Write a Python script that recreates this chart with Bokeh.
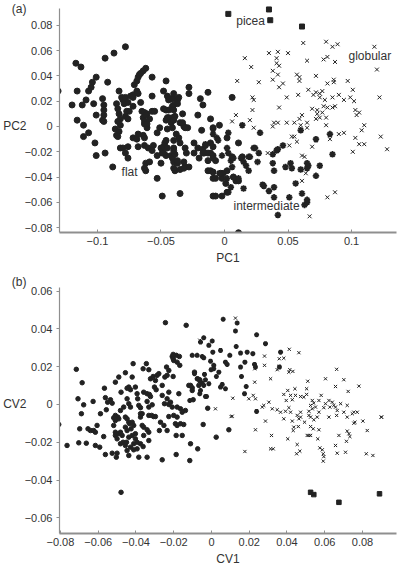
from bokeh.plotting import figure
from bokeh.layouts import column
from bokeh.models import FixedTicker, Label, LinearAxis
from bokeh.embed import file_html
from bokeh.resources import INLINE

# ---------------- Panel (a): PC1 vs PC2 ----------------
flat_a = [
    (-0.131, 0.028), (-0.078, 0.063), (-0.087, 0.058), (-0.094, 0.054), (-0.117, 0.050), (-0.113, 0.047),
    (-0.101, 0.039), (-0.092, 0.035), (-0.104, 0.035), (-0.105, 0.031), (-0.107, 0.028), (-0.116, 0.028),
    (-0.109, 0.021), (-0.112, 0.017), (-0.120, 0.017), (-0.103, 0.018), (-0.096, 0.022), (-0.095, 0.017),
    (-0.095, 0.013), (-0.095, 0.009), (-0.096, 0.005), (-0.101, 0.009), (-0.095, 0.004), (-0.116, 0.005),
    (-0.111, 0.001), (-0.107, -0.005), (-0.111, -0.008), (-0.102, -0.013),
    (-0.085, 0.018), (-0.084, 0.014), (-0.083, 0.010), (-0.082, 0.006), (-0.084, 0.004),
    (-0.081, 0.023), (-0.080, 0.021), (-0.078, 0.023), (-0.079, 0.018), (-0.076, 0.019), (-0.074, 0.024),
    (-0.072, 0.025), (-0.083, 0.028), (-0.077, 0.012), (-0.078, 0.008), (-0.076, 0.006), (-0.075, 0.012),
    (-0.086, -0.002), (-0.083, -0.004), (-0.085, -0.007), (-0.084, -0.008), (-0.082, 0.001),
    (-0.072, 0.016), (-0.072, 0.023), (-0.071, 0.033), (-0.069, 0.036), (-0.068, 0.039), (-0.067, 0.041),
    (-0.066, 0.042), (-0.064, 0.044), (-0.062, 0.046), (-0.069, 0.028), (-0.068, 0.026), (-0.066, 0.019),
    (-0.065, 0.012), (-0.063, 0.011), (-0.061, 0.010), (-0.064, 0.007), (-0.063, 0.004), (-0.063, 0.002),
    (-0.061, -0.001), (-0.068, -0.006), (-0.057, 0.039), (-0.057, 0.024), (-0.057, 0.012), (-0.055, 0.012),
    (-0.059, 0.006), (-0.048, 0.028), (-0.045, 0.024), (-0.046, 0.036), (-0.046, 0.013),
    (-0.044, 0.021), (-0.042, 0.022), (-0.040, 0.022), (-0.037, 0.021), (-0.036, 0.023), (-0.040, 0.026),
    (-0.044, 0.013), (-0.040, 0.013), (-0.046, 0.005), (-0.044, 0.007), (-0.041, 0.007), (-0.039, 0.008),
    (-0.041, 0.016), (-0.035, 0.003), (-0.032, 0.000), (-0.029, -0.001), (-0.033, 0.010), (-0.028, 0.031),
    (-0.028, 0.026), (-0.021, 0.009), (-0.038, -0.006), (-0.036, -0.009), (-0.045, -0.002), (-0.051, -0.001),
    (-0.053, -0.005), (-0.064, -0.007), (-0.063, -0.015), (-0.060, -0.017), (-0.056, -0.015),
    (-0.050, -0.017), (-0.048, -0.016), (-0.045, -0.017), (-0.040, -0.017), (-0.031, -0.017), (-0.024, -0.013),
    (-0.021, -0.017), (-0.072, -0.009), (-0.076, -0.016), (-0.082, -0.017), (-0.040, -0.011), (-0.035, -0.013),
    (-0.101, -0.023), (-0.094, -0.021), (-0.088, -0.032), (-0.080, -0.017), (-0.078, -0.021), (-0.076, -0.025),
    (-0.069, -0.010), (-0.068, -0.016), (-0.063, -0.009), (-0.062, -0.029), (-0.063, -0.033), (-0.062, -0.035),
    (-0.059, -0.028), (-0.057, -0.019), (-0.053, -0.023), (-0.053, -0.041), (-0.050, -0.029), (-0.049, -0.055),
    (-0.049, -0.021), (-0.046, -0.023), (-0.047, -0.013), (-0.046, -0.011), (-0.042, -0.023), (-0.041, -0.025),
    (-0.039, -0.022), (-0.040, -0.028), (-0.037, -0.029), (-0.039, -0.035), (-0.035, -0.034), (-0.035, -0.053),
    (-0.032, -0.028), (-0.031, -0.032), (-0.028, -0.032), (-0.030, -0.021), (-0.024, -0.021), (-0.020, -0.025),
    (0.006, 0.023), (-0.017, 0.017), (-0.011, 0.006), (-0.009, -0.001), (-0.004, 0.001), (-0.018, -0.003),
    (0.002, -0.009), (0.011, -0.013), (-0.011, -0.013), (-0.009, -0.016), (-0.017, -0.018), (-0.016, -0.021),
    (-0.011, -0.021), (-0.009, -0.023), (-0.009, -0.025), (-0.013, -0.035), (-0.011, -0.035), (-0.009, -0.036),
    (-0.007, -0.041), (-0.002, -0.041), (-0.001, -0.037), (0.002, -0.035), (-0.009, -0.055), (-0.002, -0.055),
    (-0.019, 0.022), (-0.013, 0.027), (-0.062, 0.009), (-0.061, 0.002), (-0.048, 0.014), (-0.045, 0.007),
    (-0.042, 0.003), (-0.040, 0.005), (-0.041, -0.001), (-0.040, 0.017), (-0.037, 0.018), (-0.033, 0.003),
    (-0.031, -0.001), (-0.040, -0.033), (-0.032, -0.033), (-0.037, -0.027), (-0.048, -0.021), (-0.040, -0.019),
    (-0.015, -0.015), (-0.017, -0.021), (-0.013, -0.021), (-0.007, -0.027), (-0.013, -0.027), (-0.009, -0.041),
    (-0.003, -0.037), (0.001, -0.045), (0.002, -0.052), (-0.007, -0.055), (0.009, -0.043), (0.007, -0.040),
    (0.014, -0.024), (0.006, -0.024), (0.011, -0.043), (0.011, -0.084),
]
inter_a = [
    (-0.009, -0.002), (-0.009, -0.006), (-0.006, -0.009), (0.003, -0.005), (0.014, 0.001), (0.028, -0.005),
    (0.023, -0.017), (0.042, -0.018), (0.046, -0.015), (0.060, -0.003), (0.072, -0.010), (0.083, -0.006),
    (0.002, -0.017), (-0.005, -0.011), (-0.002, -0.023), (0.005, -0.027), (0.007, -0.025), (0.013, -0.025),
    (0.015, -0.028), (0.024, -0.017), (0.027, -0.021), (0.026, -0.028), (0.019, -0.024), (0.017, -0.031),
    (0.019, -0.035), (0.006, -0.032), (-0.004, -0.037), (0.002, -0.041), (0.007, -0.040), (0.011, -0.041),
    (0.005, -0.048), (0.003, -0.052), (0.015, -0.049), (0.030, -0.046), (0.031, -0.047), (0.035, -0.051),
    (0.038, -0.029), (0.039, -0.035), (0.041, -0.019), (0.039, -0.048), (0.039, -0.056), (0.003, -0.021),
    (0.020, -0.024), (0.038, -0.022), (0.048, -0.032), (0.052, -0.029), (0.053, -0.033), (0.060, -0.034),
    (0.065, -0.033), (0.066, -0.031), (0.065, -0.029), (0.075, -0.031), (0.072, -0.039), (0.085, -0.022),
    (0.056, -0.045), (0.051, -0.056), (0.061, -0.053), (0.063, -0.062), (0.065, -0.060), (0.065, -0.058),
    (0.042, -0.070), (-0.015, -0.014),
]
glob_a = [
    (0.062, 0.066), (0.080, 0.067), (0.085, 0.063), (0.089, 0.065), (0.118, 0.063), (0.035, 0.058),
    (0.042, 0.059), (0.050, 0.058), (0.016, 0.054), (0.041, 0.054), (0.041, 0.050), (0.043, 0.048),
    (0.065, 0.052), (0.078, 0.053), (0.081, 0.055), (0.087, 0.051), (0.021, 0.047), (0.120, 0.045),
    (0.038, 0.044), (0.042, 0.041), (0.057, 0.041), (0.059, 0.039), (0.059, 0.036), (0.072, 0.040),
    (0.038, 0.037), (0.046, 0.034), (0.010, 0.036), (0.027, 0.035), (0.081, 0.034), (0.086, 0.037),
    (0.086, 0.035), (0.097, 0.036), (0.043, 0.031), (0.049, 0.023), (0.058, 0.025), (0.066, 0.029),
    (0.070, 0.025), (0.072, 0.027), (0.075, 0.026), (0.077, 0.028), (0.075, 0.023), (0.079, 0.021),
    (0.085, 0.023), (0.090, 0.025), (0.094, 0.021), (0.101, 0.029), (0.099, 0.023), (0.102, 0.020),
    (0.122, 0.023), (0.022, 0.023), (0.023, 0.021), (0.043, 0.015), (0.022, 0.013), (0.069, 0.014),
    (0.073, 0.013), (0.078, 0.016), (0.081, 0.015), (0.085, 0.015), (0.087, 0.016), (0.103, 0.013),
    (0.106, 0.011), (0.104, 0.009), (0.009, 0.009), (0.006, 0.004), (0.020, 0.005), (0.023, -0.001),
    (0.038, 0.000), (0.039, 0.003), (0.042, 0.003), (0.049, 0.003), (0.055, 0.003), (0.059, 0.006),
    (0.061, 0.009), (0.060, 0.001), (0.065, 0.003), (0.072, 0.006), (0.075, 0.007), (0.080, 0.007),
    (0.073, 0.010), (0.077, 0.011), (0.110, 0.001), (0.108, -0.003), (0.080, 0.001), (0.055, -0.008),
    (0.057, -0.012), (0.069, -0.016), (0.090, -0.006), (0.094, -0.005), (0.103, -0.009), (0.106, -0.014),
    (0.110, -0.014), (0.123, -0.008), (0.128, -0.018), (0.065, -0.001), (0.053, -0.008), (0.072, -0.011),
    (0.083, -0.010), (0.101, -0.020), (0.034, -0.021), (0.051, -0.015), (0.061, -0.023), (0.063, -0.024),
    (0.064, -0.037), (0.061, -0.043), (0.081, -0.056), (0.087, -0.052), (0.067, -0.071),
]
picea_a = [(0.003, 0.089), (0.035, 0.0925), (0.036, 0.084), (0.061, 0.079)]

# ---------------- Panel (b): CV1 vs CV2 ----------------
flat_b = [
    (-0.0716, 0.0186), (-0.0685, 0.0115), (-0.0707, 0.0030), (-0.0677, -0.0002), (-0.0689, -0.0049),
    (-0.0627, 0.0016), (-0.0567, 0.0086), (-0.0562, 0.0036), (-0.0550, 0.0012), (-0.0535, 0.0025),
    (-0.0526, 0.0007), (-0.0557, -0.0028), (-0.0588, -0.0049), (-0.0509, 0.0118), (-0.0491, 0.0145),
    (-0.0456, 0.0168), (-0.0479, 0.0065), (-0.0447, 0.0086), (-0.0438, 0.0092), (-0.0429, 0.0078),
    (-0.0420, 0.0145), (-0.0415, 0.0216), (-0.0447, 0.0030), (-0.0438, 0.0004), (-0.0429, -0.0014),
    (-0.0482, -0.0032), (-0.0465, -0.0014), (-0.0456, -0.0067), (-0.0509, -0.0058), (-0.0496, -0.0067),
    (-0.0491, -0.0076), (-0.0403, 0.0092), (-0.0394, 0.0057), (-0.0391, 0.0030), (-0.0385, -0.0005),
    (-0.0376, -0.0017), (-0.0367, -0.0049), (-0.0376, -0.0067), (-0.0362, 0.0189), (-0.0345, 0.0216),
    (-0.0332, 0.0184), (-0.0359, 0.0065), (-0.0341, 0.0057), (-0.0329, 0.0053), (-0.0323, 0.0042),
    (-0.0341, 0.0016), (-0.0332, -0.0014), (-0.0314, -0.0002), (-0.0323, 0.0136), (-0.0309, 0.0148),
    (-0.0297, 0.0127), (-0.0332, -0.0058), (-0.0306, -0.0064), (-0.0297, -0.0064), (-0.0288, 0.0154),
    (-0.0279, 0.0163), (-0.0302, 0.0092), (-0.0293, 0.0078), (-0.0261, 0.0101), (-0.0247, 0.0145),
    (-0.0235, 0.0154), (-0.0226, 0.0180), (-0.0238, 0.0198), (-0.0244, 0.0433), (-0.0208, 0.0254),
    (-0.0203, 0.0242), (-0.0200, 0.0233), (-0.0186, 0.0260), (-0.0182, 0.0224), (-0.0203, 0.0265),
    (-0.0170, 0.0254), (-0.0168, 0.0207), (-0.0235, 0.0030), (-0.0226, 0.0065), (-0.0261, 0.0048),
    (-0.0249, 0.0004), (-0.0226, 0.0000), (-0.0217, 0.0012), (-0.0208, -0.0014), (-0.0182, -0.0014),
    (-0.0173, 0.0057), (-0.0164, -0.0023), (-0.0155, -0.0041), (-0.0182, -0.0067), (-0.0226, -0.0064),
    (-0.0203, 0.0148), (-0.0134, 0.0419), (-0.0138, -0.0032), (-0.0097, 0.0025), (-0.0067, 0.0101),
    (-0.0090, 0.0171), (-0.0073, 0.0136), (-0.0062, 0.0131), (-0.0120, 0.0101), (-0.0102, 0.0088),
    (-0.0809, -0.0106), (-0.0765, -0.0217), (-0.0698, -0.0129), (-0.0654, -0.0129), (-0.0641, -0.0138),
    (-0.0606, -0.0111), (-0.0703, -0.0203), (-0.0663, -0.0205), (-0.0624, -0.0138), (-0.0615, -0.0147),
    (-0.0571, -0.0170), (-0.0615, -0.0217), (-0.0592, -0.0226), (-0.0562, -0.0265), (-0.0526, -0.0258),
    (-0.0500, -0.0258), (-0.0504, -0.0279), (-0.0518, -0.0071), (-0.0509, -0.0085), (-0.0518, -0.0111),
    (-0.0509, -0.0147), (-0.0509, -0.0164), (-0.0500, -0.0182), (-0.0491, -0.0155), (-0.0482, -0.0147),
    (-0.0473, -0.0164), (-0.0468, -0.0200), (-0.0482, -0.0208), (-0.0456, -0.0217), (-0.0450, -0.0200),
    (-0.0447, -0.0076), (-0.0438, -0.0094), (-0.0433, -0.0102), (-0.0420, -0.0094), (-0.0412, -0.0111),
    (-0.0426, -0.0129), (-0.0447, -0.0138), (-0.0456, -0.0120), (-0.0438, -0.0173), (-0.0420, -0.0164),
    (-0.0403, -0.0155), (-0.0403, -0.0182), (-0.0394, -0.0200), (-0.0412, -0.0208), (-0.0429, -0.0226),
    (-0.0447, -0.0244), (-0.0412, -0.0240), (-0.0394, -0.0235), (-0.0376, -0.0208), (-0.0362, -0.0223),
    (-0.0367, -0.0111), (-0.0359, -0.0120), (-0.0341, -0.0134), (-0.0359, -0.0164), (-0.0332, -0.0147),
    (-0.0332, -0.0191), (-0.0317, -0.0058), (-0.0341, -0.0279), (-0.0385, -0.0279), (-0.0438, -0.0270),
    (-0.0479, -0.0465), (-0.0376, -0.0049), (-0.0270, -0.0094), (-0.0252, -0.0111), (-0.0276, -0.0138),
    (-0.0235, -0.0138), (-0.0200, -0.0058), (-0.0191, -0.0102), (-0.0182, -0.0111), (-0.0164, -0.0102),
    (-0.0147, -0.0106), (-0.0187, -0.0164), (-0.0155, -0.0164), (-0.0261, -0.0293), (-0.0187, -0.0265),
    (-0.0115, -0.0297), (-0.0111, -0.0208), (-0.0073, -0.0235), (-0.0044, -0.0106), (0.0025, -0.0173),
    (0.0092, -0.0134), (-0.0020, -0.0020), (-0.0111, 0.0101), (-0.0102, 0.0074),
]
inter_b = [
    (0.0062, 0.0451), (0.0136, 0.0431), (0.0127, 0.0389), (0.0239, 0.0369), (0.0286, 0.0322),
    (0.0131, 0.0307), (-0.0041, 0.0353), (0.0004, 0.0336), (-0.0014, 0.0313), (-0.0058, 0.0330),
    (0.0048, 0.0286), (0.0097, 0.0260), (0.0154, 0.0272), (0.0189, 0.0277), (0.0219, 0.0269),
    (0.0366, 0.0277), (0.0007, 0.0277), (-0.0049, 0.0254), (-0.0041, 0.0247), (-0.0005, 0.0229),
    (0.0012, 0.0207), (0.0012, 0.0189), (-0.0002, 0.0184), (0.0074, 0.0224), (0.0083, 0.0212),
    (0.0177, 0.0224), (0.0228, 0.0212), (0.0233, 0.0198), (0.0154, 0.0198), (0.0360, 0.0198),
    (0.0039, 0.0171), (0.0026, 0.0148), (-0.0037, 0.0159), (-0.0032, 0.0131), (-0.0014, 0.0110),
    (0.0159, 0.0148), (-0.0049, 0.0113), (-0.0041, 0.0101), (0.0057, 0.0106), (0.0048, 0.0092),
    (0.0074, 0.0083), (-0.0058, 0.0074), (-0.0032, 0.0042), (0.0184, 0.0095), (0.0175, 0.0057),
    (0.0239, -0.0037), (-0.0102, 0.0260), (-0.0076, 0.0260), (-0.0090, 0.0163), (-0.0076, 0.0136),
    (-0.0062, 0.0124), (-0.0062, 0.0057), (-0.0026, 0.0042), (-0.0115, 0.0021),
]
glob_b = [
    (-0.0062, 0.0340), (0.0127, 0.0457), (0.0412, 0.0292), (0.0463, 0.0274), (0.0281, 0.0256),
    (0.0359, 0.0242), (0.0383, 0.0245), (0.0281, 0.0207), (0.0357, 0.0201), (0.0415, 0.0184),
    (0.0431, 0.0175), (0.0410, 0.0171), (0.0348, 0.0184), (0.0229, 0.0189), (0.0313, 0.0136),
    (0.0229, 0.0118), (0.0510, 0.0123), (0.0663, 0.0186), (0.0604, 0.0136), (0.0701, 0.0131),
    (0.0657, 0.0095), (0.0781, 0.0097), (0.0724, 0.0069), (0.0404, 0.0074), (0.0442, 0.0083),
    (0.0504, 0.0083), (0.0504, 0.0053), (0.0472, 0.0042), (0.0489, 0.0039), (0.0445, 0.0048),
    (0.0383, 0.0053), (0.0419, 0.0048), (0.0428, 0.0025), (0.0396, 0.0021), (0.0113, 0.0033),
    (0.0221, 0.0048), (0.0198, 0.0030), (0.0233, 0.0030), (0.0269, -0.0014), (0.0277, -0.0005),
    (0.0304, 0.0012), (0.0322, -0.0023), (0.0348, -0.0028), (0.0366, -0.0041), (0.0392, -0.0036),
    (0.0410, -0.0017), (0.0419, -0.0041), (0.0454, -0.0058), (0.0472, -0.0041), (0.0516, -0.0036),
    (0.0534, 0.0021), (0.0542, 0.0007), (0.0569, 0.0021), (0.0581, 0.0048), (0.0525, -0.0005),
    (0.0551, -0.0014), (0.0534, -0.0023), (0.0569, -0.0041), (0.0595, -0.0017), (0.0604, 0.0004),
    (0.0622, 0.0021), (0.0640, 0.0012), (0.0627, -0.0014), (0.0648, -0.0005), (0.0657, -0.0014),
    (0.0666, -0.0032), (0.0684, 0.0004), (0.0719, -0.0005), (0.0746, -0.0049), (0.0754, -0.0041),
    (0.0719, -0.0067), (0.0622, -0.0067), (0.0560, -0.0067), (0.0525, -0.0067), (0.0472, -0.0067),
    (0.0463, -0.0076), (0.0383, -0.0076), (0.0021, -0.0023), (0.0110, -0.0062), (0.0899, -0.0067),
    (0.0104, -0.0064), (0.0233, -0.0134), (0.0177, -0.0249), (0.0286, -0.0088), (0.0318, -0.0164),
    (0.0313, -0.0235), (0.0327, -0.0235), (0.0404, -0.0182), (0.0428, -0.0088), (0.0436, -0.0120),
    (0.0433, -0.0138), (0.0460, -0.0117), (0.0454, -0.0212), (0.0451, -0.0261), (0.0468, -0.0247),
    (0.0493, -0.0094), (0.0516, -0.0058), (0.0507, -0.0164), (0.0516, -0.0164), (0.0525, -0.0164),
    (0.0542, -0.0081), (0.0569, -0.0134), (0.0563, -0.0182), (0.0574, -0.0230), (0.0587, -0.0240),
    (0.0592, -0.0261), (0.0595, -0.0276), (0.0592, -0.0300), (0.0525, -0.0117), (0.0539, -0.0129),
    (0.0657, -0.0217), (0.0666, -0.0258), (0.0675, -0.0164), (0.0663, -0.0058), (0.0701, -0.0041),
    (0.0710, -0.0253), (0.0719, -0.0141), (0.0733, -0.0170), (0.0728, -0.0155), (0.0715, -0.0195),
    (0.0754, -0.0099), (0.0760, -0.0094), (0.0802, -0.0088), (0.0825, -0.0138), (0.0820, -0.0261),
    (0.0855, -0.0270), (0.0901, -0.0067), (0.0772, -0.0041),
]
picea_b = [(0.0525, -0.0465), (0.0542, -0.0477), (0.0675, -0.0518), (0.0890, -0.0473)]

# ticks
a_xticks = [-0.1, -0.05, 0, 0.05, 0.1]
a_xlabels = ["\u22120.1", "\u22120.05", "0", "0.05", "0.1"]
a_yticks = [-0.08, -0.06, -0.04, -0.02, 0, 0.02, 0.04, 0.06, 0.08]
a_ylabels = ["\u22120.08", "\u22120.06", "\u22120.04", "\u22120.02", "0", "0.02", "0.04", "0.06", "0.08"]
b_xticks = [-0.08, -0.06, -0.04, -0.02, 0, 0.02, 0.04, 0.06, 0.08]
b_xlabels = ["\u22120.08", "\u22120.06", "\u22120.04", "\u22120.02", "0", "0.02", "0.04", "0.06", "0.08"]
b_yticks = [-0.06, -0.04, -0.02, 0, 0.02, 0.04, 0.06]
b_ylabels = ["\u22120.06", "\u22120.04", "\u22120.02", "0", "0.02", "0.04", "0.06"]

FONT = "Liberation Sans"
AX = "#8f8f8f"
INK = "#222222"
TXT = "#333333"


def xs(pts):
    return [p[0] for p in pts]


def ys(pts):
    return [p[1] for p in pts]


def make_fig(h, xr, yr, ybounds, mbt, mbb, xt, xl, yt, yl, xlab, ylab, tag, tag_y):
    p = figure(width=398, height=h, x_range=xr, y_range=yr, output_backend="svg",
               toolbar_location=None, min_border_left=59, min_border_right=2,
               min_border_top=mbt, min_border_bottom=mbb)
    p.outline_line_color = None
    p.grid.visible = False
    xa = p.xaxis[0]
    ya = p.yaxis[0]
    xa.ticker = FixedTicker(ticks=xt)
    xa.major_label_overrides = dict(zip(xt, xl))
    ya.ticker = FixedTicker(ticks=yt)
    ya.major_label_overrides = dict(zip(yt, yl))
    ya.bounds = ybounds
    for ax in (xa, ya):
        ax.axis_line_color = AX
        ax.major_tick_line_color = AX
        ax.minor_tick_line_color = None
        ax.major_label_text_font = FONT
        ax.major_label_text_font_size = "11px"
        ax.major_label_text_color = TXT
        ax.axis_label_text_font = FONT
        ax.axis_label_text_font_size = "12px"
        ax.axis_label_text_font_style = "normal"
        ax.axis_label_text_color = TXT
    xa.axis_line_width = 2
    ya.axis_line_width = 1.2
    xa.major_tick_in = 3
    xa.major_tick_out = 0
    xa.major_label_standoff = 4
    ya.major_tick_in = 0
    ya.major_tick_out = 3
    ya.major_label_standoff = 4
    xa.axis_label = xlab
    xa.axis_label_standoff = 3
    # outer left guide carrying the panel tag and the y-axis name
    outer = LinearAxis(ticker=FixedTicker(ticks=[0, tag_y]),
                       major_label_overrides={0: ylab, tag_y: tag},
                       axis_line_color=None, major_tick_line_color=None,
                       minor_tick_line_color=None, major_tick_in=0, major_tick_out=0,
                       major_label_text_font=FONT, major_label_text_font_size="12px",
                       major_label_text_color=TXT)
    try:
        outer.major_label_standoff = -5
    except Exception:
        outer.major_label_standoff = 0
    p.add_layout(outer, "left")
    return p


def lab(p, x, y, text, align="left"):
    p.add_layout(Label(x=x, y=y, text=text, text_font=FONT, text_font_size="12px",
                       text_color=TXT, text_align=align, text_baseline="middle"))


# Panel (a)
pa = make_fig(274, (-0.1299, 0.1354), (-0.0838, 0.0980), (-0.0838, 0.0933), 2, 42,
              a_xticks, a_xlabels, a_yticks, a_ylabels, "PC1", "PC2", "(a)", 0.0927)
pa.scatter(xs(glob_a), ys(glob_a), marker="x", size=5.5, line_color=INK, line_width=1)
pa.scatter(xs(flat_a), ys(flat_a), marker="circle", size=6, fill_color=INK, line_color=INK)
pa.scatter(xs(inter_a), ys(inter_a), marker="asterisk", size=6.5, line_color=INK, line_width=1.8)
pa.scatter(xs(picea_a), ys(picea_a), marker="square", size=5, fill_color=INK, line_color=INK)
lab(pa, 0.0205, 0.0837, "picea", align="center")
lab(pa, 0.0976, 0.0561, "globular")
lab(pa, -0.081, -0.0363, "flat")
lab(pa, 0.0071, -0.0632, "intermediate")

# Panel (b)
pb = make_fig(294, (-0.0805, 0.0980), (-0.0683, 0.0672), (-0.0683, 0.0619), 3, 35,
              b_xticks, b_xlabels, b_yticks, b_ylabels, "CV1", "CV2", "(b)", 0.0655)
pb.scatter(xs(glob_b), ys(glob_b), marker="x", size=4.5, line_color=INK, line_width=1)
pb.scatter(xs(flat_b), ys(flat_b), marker="circle", size=4.5, fill_color=INK, line_color=INK)
pb.scatter(xs(inter_b), ys(inter_b), marker="asterisk", size=5, line_color=INK, line_width=1.6)
pb.scatter(xs(picea_b), ys(picea_b), marker="square", size=4.5, fill_color=INK, line_color=INK)

layout = column(pa, pb)
open("out.html", "w").write(file_html(layout, INLINE))
